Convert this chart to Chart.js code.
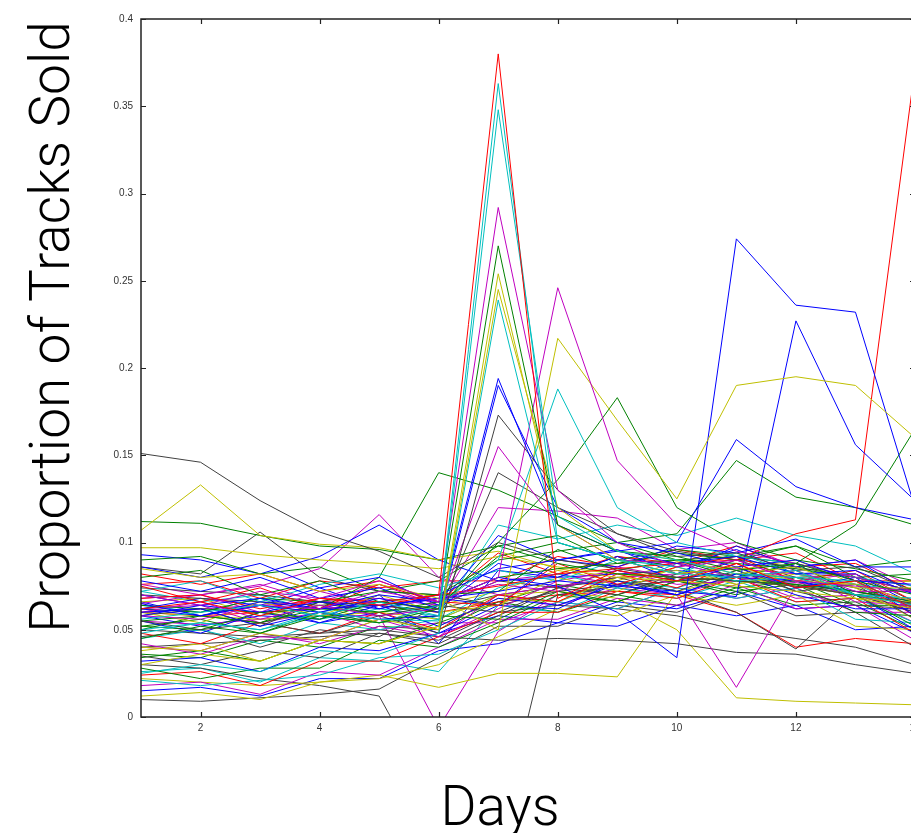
<!DOCTYPE html>
<html>
<head>
<meta charset="utf-8">
<script src="https://cdn.jsdelivr.net/npm/chart.js@4"></script>
<style>
  html, body { margin: 0; padding: 0; background: #fff; overflow: hidden; }
  #wrap { width: 930px; height: 833px; }
</style>
</head>
<body>
<div id="wrap"><canvas id="c" width="930" height="833"></canvas></div>
<script>
const days = [1,2,3,4,5,6,7,8,9,10,11,12,13,14]
const xTicks = [2,4,6,8,10,12,14]
const yTicks = [0,0.05,0.1,0.15,0.2,0.25,0.3,0.35,0.4]

// matlab style colour letters, one per track (same order as tracks)
const trackColors = 'rccmgyycbbkmmycgbbrgbgkygy' +
    'bgrcmykbgrcmykbgrcmykbgbmkgkmkyykmkrkbcgmrcbgmykbrcmgb'
const colorMap = {b:'#0000ff', g:'#008000', r:'#ff0000', c:'#00bfbf', m:'#bf00bf', y:'#bfbf00', k:'#404040'}

// proportion of tracks sold per day, one row per track
const tracks = [
  [0.062,0.066,0.058,0.068,0.064,0.070,0.380,0.068,0.084,0.078,0.088,0.074,0.078,0.062],
  [0.056,0.060,0.064,0.058,0.066,0.058,0.363,0.100,0.090,0.082,0.080,0.084,0.070,0.064],
  [0.050,0.054,0.050,0.060,0.056,0.055,0.348,0.115,0.095,0.090,0.082,0.080,0.078,0.062],
  [0.070,0.064,0.072,0.068,0.078,0.066,0.292,0.130,0.100,0.086,0.090,0.078,0.075,0.072],
  [0.045,0.052,0.048,0.058,0.054,0.062,0.270,0.110,0.095,0.092,0.084,0.088,0.078,0.070],
  [0.030,0.036,0.032,0.044,0.042,0.052,0.254,0.110,0.090,0.082,0.086,0.078,0.076,0.066],
  [0.040,0.038,0.048,0.044,0.056,0.050,0.245,0.120,0.095,0.090,0.082,0.086,0.074,0.074],
  [0.025,0.030,0.026,0.038,0.036,0.048,0.239,0.100,0.090,0.086,0.078,0.080,0.070,0.068],
  [0.065,0.058,0.064,0.060,0.068,0.060,0.194,0.110,0.095,0.088,0.092,0.082,0.084,0.070],
  [0.060,0.062,0.052,0.060,0.056,0.058,0.190,0.120,0.100,0.094,0.086,0.090,0.078,0.076],
  [0.055,0.050,0.054,0.048,0.058,0.048,0.173,0.130,0.105,0.092,0.094,0.084,0.086,0.072],
  [0.060,0.066,0.056,0.064,0.058,0.062,0.155,0.110,0.090,0.088,0.080,0.084,0.072,0.072],
  [0.058,0.056,0.064,0.062,0.072,0.066,0.080,0.246,0.147,0.110,0.095,0.088,0.080,0.072],
  [0.085,0.080,0.082,0.072,0.076,0.068,0.050,0.217,0.170,0.125,0.190,0.195,0.190,0.160],
  [0.048,0.054,0.050,0.058,0.054,0.064,0.090,0.188,0.120,0.100,0.092,0.088,0.080,0.075],
  [0.052,0.050,0.060,0.056,0.066,0.062,0.100,0.136,0.183,0.120,0.100,0.090,0.085,0.078],
  [0.070,0.064,0.068,0.062,0.070,0.066,0.080,0.075,0.060,0.034,0.274,0.236,0.232,0.120],
  [0.062,0.058,0.066,0.062,0.064,0.068,0.072,0.078,0.075,0.072,0.069,0.227,0.156,0.124],
  [0.068,0.070,0.062,0.068,0.066,0.070,0.075,0.082,0.085,0.088,0.090,0.105,0.113,0.372],
  [0.055,0.058,0.054,0.062,0.060,0.066,0.080,0.085,0.088,0.090,0.092,0.088,0.110,0.165],
  [0.058,0.064,0.060,0.066,0.062,0.070,0.085,0.090,0.095,0.100,0.159,0.132,0.120,0.113],
  [0.062,0.060,0.068,0.066,0.072,0.070,0.090,0.095,0.100,0.105,0.147,0.126,0.120,0.110],
  [0.151,0.146,0.124,0.106,0.095,0.080,0.100,0.090,0.085,0.080,0.078,0.075,0.070,0.065],
  [0.107,0.133,0.104,0.099,0.097,0.090,0.095,0.085,0.080,0.078,0.075,0.072,0.068,0.062],
  [0.112,0.111,0.104,0.098,0.096,0.090,0.098,0.088,0.082,0.080,0.078,0.076,0.072,0.066],
  [0.097,0.097,0.093,0.090,0.088,0.085,0.092,0.086,0.082,0.080,0.078,0.075,0.070,0.065],
  [0.078,0.072,0.080,0.068,0.074,0.062,0.088,0.080,0.092,0.078,0.086,0.074,0.080,0.058],
  [0.080,0.084,0.070,0.078,0.066,0.070,0.072,0.096,0.084,0.090,0.080,0.088,0.070,0.074],
  [0.075,0.066,0.074,0.062,0.076,0.066,0.064,0.088,0.076,0.086,0.092,0.078,0.084,0.066],
  [0.072,0.078,0.066,0.076,0.082,0.074,0.084,0.078,0.090,0.082,0.094,0.082,0.076,0.072],
  [0.065,0.070,0.060,0.072,0.064,0.068,0.076,0.072,0.086,0.080,0.090,0.078,0.082,0.060],
  [0.060,0.054,0.066,0.058,0.070,0.060,0.064,0.080,0.072,0.086,0.076,0.084,0.068,0.066],
  [0.058,0.062,0.052,0.066,0.058,0.064,0.060,0.074,0.080,0.072,0.084,0.072,0.076,0.056],
  [0.055,0.048,0.060,0.054,0.064,0.052,0.068,0.064,0.076,0.070,0.082,0.070,0.062,0.062],
  [0.052,0.056,0.048,0.060,0.054,0.058,0.056,0.072,0.066,0.078,0.070,0.080,0.070,0.052],
  [0.048,0.042,0.054,0.048,0.060,0.050,0.070,0.066,0.082,0.074,0.088,0.074,0.078,0.058],
  [0.045,0.050,0.042,0.054,0.050,0.056,0.074,0.082,0.074,0.088,0.080,0.088,0.070,0.068],
  [0.042,0.036,0.046,0.044,0.056,0.046,0.062,0.078,0.084,0.076,0.078,0.084,0.066,0.064],
  [0.038,0.042,0.032,0.044,0.042,0.052,0.068,0.066,0.080,0.084,0.076,0.082,0.074,0.056],
  [0.035,0.030,0.038,0.034,0.048,0.042,0.058,0.074,0.070,0.082,0.086,0.072,0.064,0.062],
  [0.032,0.034,0.026,0.040,0.038,0.048,0.064,0.062,0.078,0.070,0.082,0.078,0.070,0.050],
  [0.028,0.022,0.028,0.028,0.044,0.040,0.054,0.070,0.066,0.078,0.072,0.076,0.060,0.058],
  [0.024,0.026,0.018,0.032,0.032,0.046,0.060,0.060,0.072,0.068,0.080,0.066,0.068,0.048],
  [0.021,0.018,0.021,0.024,0.034,0.036,0.050,0.066,0.062,0.074,0.068,0.074,0.056,0.054],
  [0.018,0.020,0.013,0.026,0.024,0.040,0.056,0.056,0.068,0.064,0.076,0.062,0.064,0.044],
  [0.012,0.014,0.010,0.020,0.022,0.030,0.046,0.062,0.058,0.070,0.064,0.070,0.052,0.050],
  [0.010,0.009,0.011,0.013,0.016,0.034,0.052,0.052,0.064,0.060,0.072,0.058,0.060,0.040],
  [0.086,0.080,0.088,0.074,0.080,0.064,0.104,0.090,0.096,0.082,0.098,0.086,0.090,0.070],
  [0.090,0.092,0.082,0.086,0.072,0.078,0.098,0.104,0.088,0.094,0.090,0.098,0.080,0.082],
  [0.093,0.090,0.082,0.092,0.110,0.090,0.078,0.080,0.082,0.084,0.080,0.078,0.072,0.066],
  [0.068,0.070,0.075,0.085,0.116,0.080,0.070,0.075,0.080,0.082,0.085,0.082,0.076,0.066],
  [0.086,0.082,0.106,0.080,0.072,0.070,0.064,0.072,0.076,0.080,0.082,0.080,0.074,0.064],
  [0.064,0.062,0.060,0.062,0.080,0.140,0.130,0.115,0.100,0.090,0.088,0.085,0.080,0.072],
  [0.074,0.072,0.070,0.066,0.064,0.060,0.140,0.120,0.105,0.095,0.090,0.086,0.080,0.072],
  [0.060,0.062,0.064,0.066,0.068,0.064,0.078,0.082,0.076,0.070,0.017,0.075,0.070,0.062],
  [0.050,0.048,0.046,0.048,0.050,0.046,0.044,0.045,0.044,0.042,0.037,0.036,0.030,0.025],
  [0.022,0.020,0.018,0.020,0.024,0.017,0.025,0.025,0.023,0.072,0.080,0.075,0.070,0.062],
  [0.060,0.058,0.056,0.058,0.060,0.056,0.070,0.072,0.068,0.050,0.011,0.009,0.008,0.007],
  [0.030,0.028,0.022,0.018,0.012,-0.050,-0.070,0.070,0.075,0.078,0.080,0.076,0.070,0.060],
  [0.055,0.053,0.056,0.058,0.058,-0.006,0.049,0.070,0.075,0.078,0.080,0.077,0.072,0.064],
  [0.070,0.068,0.066,0.064,0.066,0.062,0.070,0.075,0.078,0.072,0.060,0.039,0.070,0.060],
  [0.060,0.058,0.060,0.062,0.064,0.060,0.066,0.070,0.072,0.070,0.060,0.040,0.045,0.042],
  [0.040,0.042,0.044,0.046,0.048,0.044,0.060,0.064,0.062,0.058,0.050,0.045,0.040,0.030],
  [0.062,0.068,0.064,0.074,0.062,0.068,0.064,0.090,0.086,0.098,0.094,0.102,0.086,0.086],
  [0.064,0.060,0.068,0.056,0.062,0.058,0.110,0.102,0.110,0.104,0.114,0.104,0.098,0.082],
  [0.050,0.058,0.054,0.066,0.060,0.064,0.092,0.100,0.090,0.096,0.092,0.098,0.086,0.090],
  [0.076,0.070,0.076,0.066,0.076,0.064,0.120,0.118,0.114,0.096,0.100,0.086,0.090,0.074],
  [0.082,0.076,0.082,0.072,0.078,0.066,0.094,0.082,0.092,0.088,0.098,0.086,0.088,0.072],
  [0.026,0.028,0.020,0.034,0.032,0.026,0.064,0.060,0.074,0.068,0.078,0.066,0.068,0.054],
  [0.058,0.052,0.058,0.056,0.070,0.042,0.084,0.080,0.092,0.086,0.096,0.082,0.082,0.064],
  [0.034,0.038,0.032,0.044,0.042,0.054,0.066,0.076,0.070,0.080,0.074,0.078,0.064,0.064],
  [0.040,0.038,0.048,0.042,0.052,0.046,0.070,0.064,0.074,0.070,0.080,0.068,0.070,0.054],
  [0.066,0.068,0.058,0.064,0.054,0.064,0.072,0.084,0.078,0.089,0.084,0.090,0.076,0.078],
  [0.046,0.050,0.040,0.050,0.046,0.064,0.078,0.074,0.084,0.078,0.090,0.080,0.082,0.066],
  [0.015,0.017,0.012,0.022,0.022,0.038,0.042,0.054,0.052,0.064,0.058,0.064,0.050,0.052],
  [0.076,0.078,0.068,0.078,0.074,0.078,0.078,0.092,0.086,0.096,0.090,0.094,0.078,0.078],
  [0.072,0.066,0.070,0.060,0.066,0.056,0.070,0.066,0.078,0.074,0.084,0.074,0.076,0.062],
  [0.062,0.064,0.054,0.060,0.050,0.054,0.054,0.066,0.062,0.074,0.068,0.074,0.060,0.060],
  [0.036,0.034,0.044,0.040,0.052,0.050,0.066,0.060,0.070,0.064,0.074,0.064,0.066,0.050],
  [0.066,0.058,0.064,0.054,0.060,0.048,0.058,0.054,0.066,0.062,0.072,0.062,0.064,0.048]
]

const datasets = tracks.map((vals, i) => ({
    data: days.map((d, j) => ({x: d, y: vals[j]})),
    borderColor: colorMap[trackColors[i]] || '#0000ff',
    borderWidth: 1,
    pointRadius: 0,
    tension: 0,
    fill: false
}))

// frame with inward ticks plus the two big axis titles
const frame = {
    id: 'frame',
    afterDraw(chart) {
        const {ctx, chartArea: a, scales: {x, y}} = chart
        ctx.save()
        ctx.strokeStyle = '#222'
        ctx.lineWidth = 1.5
        ctx.strokeRect(a.left, a.top, a.right - a.left, a.bottom - a.top)
        ctx.lineWidth = 1.2
        ctx.beginPath()
        for (const t of xTicks) {
            const px = Math.round(x.getPixelForValue(t)) + 0.5
            ctx.moveTo(px, a.bottom); ctx.lineTo(px, a.bottom - 5)
            ctx.moveTo(px, a.top); ctx.lineTo(px, a.top + 5)
        }
        for (const t of yTicks) {
            const py = Math.round(y.getPixelForValue(t)) + 0.5
            ctx.moveTo(a.left, py); ctx.lineTo(a.left + 5, py)
            ctx.moveTo(a.right, py); ctx.lineTo(a.right - 5, py)
        }
        ctx.stroke()

        ctx.fillStyle = '#000'
        ctx.font = '300 55px Roboto'
        ctx.textAlign = 'center'
        ctx.textBaseline = 'alphabetic'
        ctx.fillText('Days', 500, 825)
        ctx.translate(69, 327)
        ctx.rotate(-Math.PI / 2)
        ctx.fillText('Proportion of Tracks Sold', 0, 0)
        ctx.restore()
    }
}

new Chart(document.getElementById('c'), {
    type: 'line',
    data: {datasets: datasets},
    options: {
        responsive: false,
        animation: false,
        layout: {padding: {top: 19, right: 15, left: 0, bottom: 0}},
        plugins: {legend: {display: false}, tooltip: {enabled: false}},
        scales: {
            x: {
                type: 'linear', min: 1, max: 14,
                grid: {display: false, drawTicks: false},
                border: {display: false},
                afterBuildTicks: s => { s.ticks = xTicks.map(v => ({value: v})) },
                afterFit: s => { s.height = 116 },
                ticks: {color: '#333', font: {family: 'Liberation Sans', size: 10}, padding: 5, maxRotation: 0}
            },
            y: {
                min: 0, max: 0.4,
                grid: {display: false, drawTicks: false},
                border: {display: false},
                afterBuildTicks: s => { s.ticks = yTicks.map(v => ({value: v})) },
                afterFit: s => { s.width = 141 },
                ticks: {color: '#333', font: {family: 'Liberation Sans', size: 10}, padding: 8,
                    callback: v => String(+v.toFixed(2))}
            }
        }
    },
    plugins: [frame]
})
</script>
</body>
</html>
